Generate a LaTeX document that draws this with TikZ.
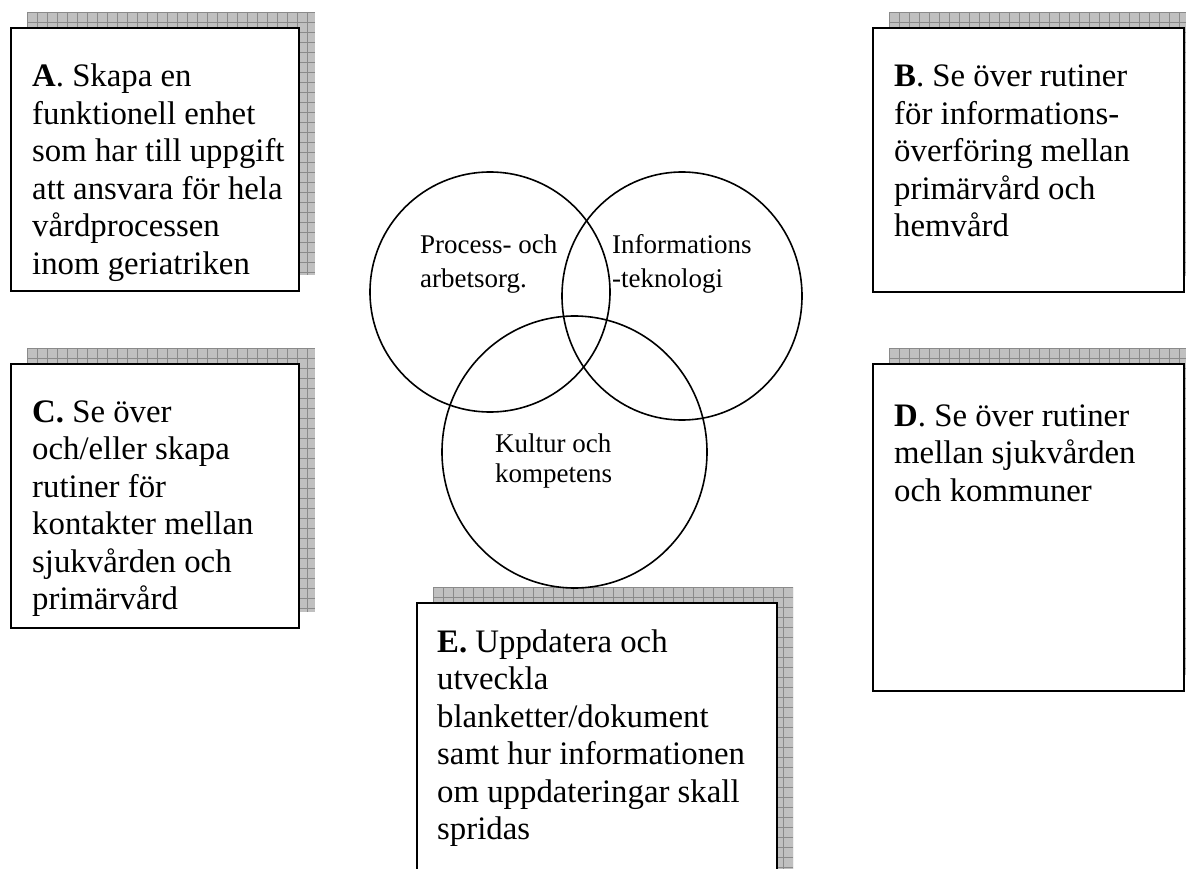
\documentclass[tikz,border=0pt]{standalone}
\usepackage{fontspec}
\setmainfont{Liberation Serif}
\usetikzlibrary{shapes.geometric}
\definecolor{shadefill}{RGB}{192,192,192}
\definecolor{shadeline}{RGB}{138,138,138}
\tikzset{
  notebox/.style={draw=black, line width=2.4pt, fill=white, inner sep=0pt, outer sep=0pt},
  notetext/.style={anchor=base west, inner sep=0pt, font=\fontsize{32.8}{37.5}\selectfont},
  venn/.style={draw=black, line width=1.6pt, ellipse, inner sep=0pt},
  venntext/.style={anchor=base west, inner sep=0pt, font=\fontsize{27}{34}\selectfont},
  gridline/.style={draw=shadeline, line width=0.9pt},
}
% hatched drop shadow: grey with a fine grid, clipped to its rectangle
\newcommand\gridshade[4]{%
  \begin{scope}
    \clip (#1,#2) rectangle (#3,#4);
    \fill[shadefill] (#1,#2) rectangle (#3,#4);
    \foreach \gx in {0,10,...,400} {\draw[gridline] (#1+\gx,#2) -- (#1+\gx,#4);}
    \foreach \gy in {0,10,...,400} {\draw[gridline] (#1,#2+\gy) -- (#3,#2+\gy);}
  \end{scope}}
\begin{document}
\begin{tikzpicture}[x=1pt, y=-1pt]
  \useasboundingbox (0,0) rectangle (1186,869);
  \clip (0,0) rectangle (1186,869);

  % shadows
  \gridshade{27}{12}{315}{275}
  \gridshade{889}{12}{1200}{276}
  \gridshade{27}{348}{315}{612}
  \gridshade{889}{348}{1200}{675}
  \gridshade{433}{587}{793}{905}

  % boxes
  \node[notebox, minimum width=288pt, minimum height=263pt] (A) at (155,159.5) {};
  \node[notebox, minimum width=311pt, minimum height=264pt] (B) at (1028.5,160) {};
  \node[notebox, minimum width=288pt, minimum height=264pt] (C) at (155,496) {};
  \node[notebox, minimum width=311pt, minimum height=327pt] (D) at (1028.5,527.5) {};
  \node[notebox, minimum width=360pt, minimum height=302pt] (E) at (597,754) {};

  % box texts
  \node[notetext] (Atext) at (32,87) {\begin{tabular}[t]{@{}l@{}}\textbf{A}. Skapa en\\ funktionell enhet\\ som har till uppgift\\ att ansvara för hela\\ vårdprocessen\\ inom geriatriken\end{tabular}};
  \node[notetext] (Btext) at (894,87) {\begin{tabular}[t]{@{}l@{}}\textbf{B}. Se över rutiner\\ för informations-\\ överföring mellan\\ primärvård och\\ hemvård\end{tabular}};
  \node[notetext] (Ctext) at (32,422) {\begin{tabular}[t]{@{}l@{}}\textbf{C.} Se över\\ och/eller skapa\\ rutiner för\\ kontakter mellan\\ sjukvården och\\ primärvård\end{tabular}};
  \node[notetext] (Dtext) at (894,426) {\begin{tabular}[t]{@{}l@{}}\textbf{D}. Se över rutiner\\ mellan sjukvården\\ och kommuner\end{tabular}};
  \node[notetext] (Etext) at (437,652) {\begin{tabular}[t]{@{}l@{}}\textbf{E.} Uppdatera och\\ utveckla\\ blanketter/dokument\\ samt hur informationen\\ om uppdateringar skall\\ spridas\end{tabular}};

  % Venn diagram
  \node[venn, minimum width=240pt, minimum height=240pt] (proc) at (490,292) {};
  \node[venn, minimum width=240pt, minimum height=248pt] (info) at (682,296) {};
  \node[venn, minimum width=265pt, minimum height=272pt] (kult) at (574.5,452) {};

  \node[venntext] (proctext) at (420,254) {\begin{tabular}[t]{@{}l@{}}Process- och\\ arbetsorg.\end{tabular}};
  \node[venntext] (infotext) at (612,254) {\begin{tabular}[t]{@{}l@{}}Informations\\ -teknologi\end{tabular}};
  \node[venntext, font=\fontsize{27}{30}\selectfont] (kulttext) at (495,452) {\begin{tabular}[t]{@{}l@{}}Kultur och\\ kompetens\end{tabular}};
\end{tikzpicture}
\end{document}
